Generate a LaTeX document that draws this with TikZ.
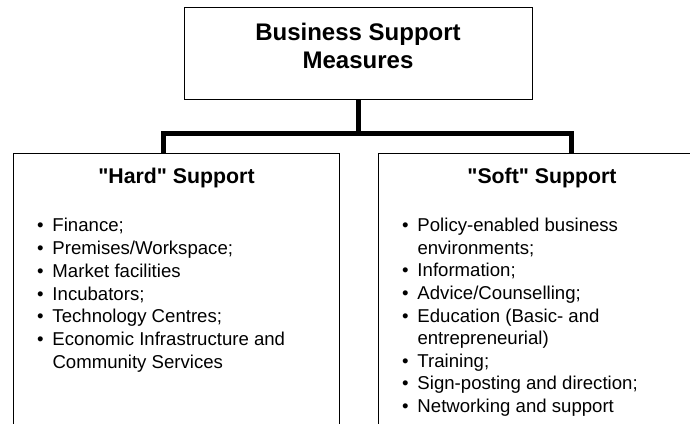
\documentclass[tikz,border=0pt]{standalone}
\usepackage{fontspec}
\setmainfont{Liberation Sans}
\newcommand\itembul{\makebox[15.3pt][l]{\textbullet}}
\newcommand\itemind{\hspace*{15.3pt}}
\newcommand\sq{\XeTeXglyph\XeTeXcharglyph"22\relax}
\begin{document}
\begin{tikzpicture}[x=1pt,y=-1pt,
  box/.style={draw=black, line width=1.3pt, inner sep=0pt, anchor=north west},
  conn/.style={draw=black, line width=5pt},
  ttl/.style={anchor=base, inner sep=0pt, font=\fontsize{24}{28}\selectfont\bfseries},
  sub/.style={anchor=base, inner sep=0pt, font=\fontsize{21.3}{24}\selectfont\bfseries},
  itm/.style={anchor=base west, inner sep=0pt, font=\fontsize{18.6}{22}\selectfont}]
\useasboundingbox (0,0) rectangle (690,423);
\clip (0,0) rectangle (690,423);
\fill[white] (0,0) rectangle (690,423);
% boxes
\node[box, minimum width=348pt, minimum height=92pt] (top) at (184,7) {};
\node[box, minimum width=326pt, minimum height=300pt] (hard) at (13,153) {};
\node[box, minimum width=328pt, minimum height=300pt] (soft) at (378,153) {};
% titles
\node[ttl] (t1) at (358,40) {Business Support};
\node[ttl] (t2) at (358,68) {Measures};
\node[sub] (ht) at (176.5,183) {\sq Hard\sq{} Support};
\node[sub] (st) at (542,183) {\sq Soft\sq{} Support};
% lists
\foreach \t [count=\i from 0] in {{\itembul Finance;},{\itembul Premises/Workspace;},{\itembul Market facilities},{\itembul Incubators;},{\itembul Technology Centres;},{\itembul Economic Infrastructure and},{\itemind Community Services}}
  \node[itm] (h\i) at (37,{231.7+22.8*\i}) {\t};
\foreach \t [count=\i from 0] in {{\itembul Policy-enabled business},{\itemind environments;},{\itembul Information;},{\itembul Advice/Counselling;},{\itembul Education (Basic- and},{\itemind entrepreneurial)},{\itembul Training;},{\itembul Sign-posting and direction;},{\itembul Networking and support}}
  \node[itm] (s\i) at (402,{231.7+22.6*\i}) {\t};
% connectors
\coordinate (bl) at (163,133);
\coordinate (br) at (571,133);
\draw[conn] (top.south) -- (top.south |- bl);
\draw[conn] (hard.north -| bl) |- (br) -- (br |- soft.north);
\end{tikzpicture}
\end{document}
